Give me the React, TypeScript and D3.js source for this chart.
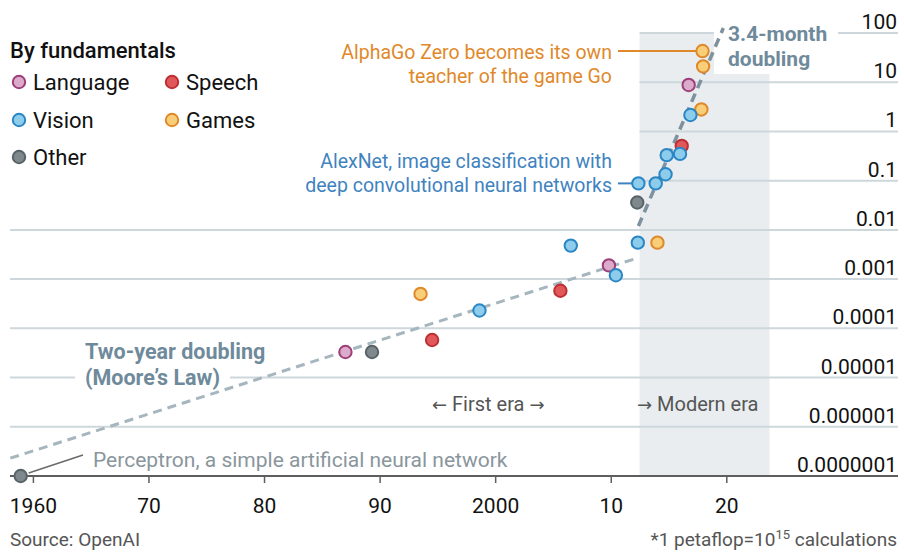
import React from "react";
import * as d3 from "d3";

// ---------- data ----------
const categories = ["Language", "Speech", "Vision", "Games", "Other"];

const pointYears = [
  1958.9, 1987.0, 1989.3, 1993.5, 1994.5, 1998.6, 2005.6, 2006.5, 2009.8, 2010.4,
  2012.3, 2014.0, 2012.25, 2012.35, 2013.85, 2014.7, 2014.8, 2016.1, 2015.95, 2017.8,
  2016.85, 2016.7, 2017.95, 2017.9,
];
const pointValues = [
  1e-7, 3.3e-5, 3.3e-5, 5e-4, 5.8e-5, 2.3e-4, 5.8e-4, 4.8e-3, 1.9e-3, 1.2e-3,
  5.5e-3, 5.5e-3, 0.036, 0.088, 0.088, 0.135, 0.33, 0.51, 0.35, 2.8,
  2.16, 8.8, 21, 43,
];
const pointCategories = [
  "Other", "Language", "Other", "Games", "Speech", "Vision", "Speech", "Vision", "Language", "Vision",
  "Vision", "Games", "Other", "Vision", "Vision", "Vision", "Vision", "Speech", "Vision", "Games",
  "Vision", "Language", "Games", "Games",
];

const mooreYears = [1958.0, 2012.3];
const mooreValues = [2.3e-7, 2.7e-3];
const modernYears = [2012.35, 2019.7];
const modernValues = [0.012, 126];

const modernEra = [2012.45, 2023.7];

const yTickValues = [100, 10, 1, 0.1, 0.01, 0.001, 0.0001, 0.00001, 0.000001, 0.0000001];
const yTickLabels = ["100", "10", "1", "0.1", "0.01", "0.001", "0.0001", "0.00001", "0.000001", "0.0000001"];
const xTickValues = [1960, 1970, 1980, 1990, 2000, 2010, 2020];
const xTickLabels = ["1960", "70", "80", "90", "2000", "10", "20"];

// ---------- styles ----------
const FONT = "Roboto, 'Open Sans', sans-serif";
const ARROW_FONT = "'DejaVu Sans', sans-serif";
const fills: Record<string, string> = {
  Language: "#dcaacb",
  Speech: "#e0585a",
  Vision: "#8dcdeb",
  Games: "#f8cf78",
  Other: "#7e888d",
};
const strokes: Record<string, string> = {
  Language: "#9c3f78",
  Speech: "#bd2f33",
  Vision: "#2a86c4",
  Games: "#e0892b",
  Other: "#586368",
};

export default function App() {
  const W = 904;
  const H = 552;
  const x = d3.scaleLinear().domain([1960, 2020]).range([33.4, 726.8]);
  const y = d3.scaleLog().domain([1e-7, 100]).range([476, 33]);
  const line = d3
    .line<[number, number]>()
    .x((d) => x(d[0]))
    .y((d) => y(d[1]));

  const mooreData = mooreYears.map((yr, i) => [yr, mooreValues[i]] as [number, number]);
  const modernData = modernYears.map((yr, i) => [yr, modernValues[i]] as [number, number]);

  const eraX0 = x(modernEra[0]);
  const eraX1 = x(modernEra[1]);

  const points = pointYears.map((yr, i) => ({ yr, v: pointValues[i], c: pointCategories[i] }));

  const legendPos = [
    [19, 82],
    [172, 82],
    [19, 120],
    [172, 120],
    [19, 157],
  ];

  const alphaGo = points[points.length - 1];
  const alexNet = points[13];
  const perceptron = points[0];

  return (
    <div style={{ position: "absolute", left: 0, top: 0 }}>
      <svg width={W} height={H} style={{ display: "block", background: "#fff" }} fontFamily={FONT}>
        <rect x={0} y={0} width={W} height={H} fill="#fff" />
        {/* modern era shading */}
        <rect x={eraX0} y={y(100)} width={eraX1 - eraX0} height={y(1e-7) - y(100)} fill="#e9edf0" />

        {/* gridlines */}
        {yTickValues.map((v, i) =>
          v === 1e-7 ? null : (
            <line
              key={"g" + i}
              x1={v >= 0.1 ? eraX0 : 10}
              x2={898}
              y1={y(v)}
              y2={y(v)}
              stroke="#cdd7dc"
              strokeWidth={2}
            />
          )
        )}
        {/* label knock-outs */}
        <rect x={714} y={16} width={124} height={58} fill="#fff" />
        <rect x={75} y={370} width={155} height={14} fill="#fff" />

        {/* axis */}
        <line x1={10} x2={898} y1={y(1e-7)} y2={y(1e-7)} stroke="#5e5e5e" strokeWidth={2} />
        {xTickValues.map((t, i) => (
          <g key={"x" + i}>
            <line x1={x(t)} x2={x(t)} y1={y(1e-7)} y2={y(1e-7) + 7} stroke="#5e5e5e" strokeWidth={1.5} />
            <text x={x(t)} y={513} textAnchor="middle" fontSize={21} fill="#111">
              {xTickLabels[i]}
            </text>
          </g>
        ))}
        {yTickValues.map((v, i) => (
          <text key={"yl" + i} x={897} y={y(v) - 4} textAnchor="end" fontSize={21} fill="#111">
            {yTickLabels[i]}
          </text>
        ))}

        {/* trend lines */}
        <path d={line(mooreData) || ""} fill="none" stroke="#a6b6bf" strokeWidth={3} strokeDasharray="9 6" />
        <path d={line(modernData) || ""} fill="none" stroke="#7d929e" strokeWidth={3.5} strokeDasharray="9 6" />

        {/* connectors */}
        <line x1={618} x2={x(alphaGo.yr)} y1={y(alphaGo.v)} y2={y(alphaGo.v)} stroke="#e0892b" strokeWidth={2} />
        <line x1={618} x2={x(alexNet.yr)} y1={y(alexNet.v)} y2={y(alexNet.v)} stroke="#3f83bf" strokeWidth={2} />
        <line x1={x(perceptron.yr) + 8} y1={y(perceptron.v) - 3} x2={83} y2={455} stroke="#6a6a6a" strokeWidth={1.5} />

        {/* points */}
        {points.map((p, i) => (
          <circle
            key={"p" + i}
            cx={x(p.yr)}
            cy={y(p.v)}
            r={6.2}
            fill={fills[p.c]}
            stroke={strokes[p.c]}
            strokeWidth={2}
          />
        ))}

        {/* legend */}
        <text x={10} y={58} fontSize={22} fontWeight={500} fill="#111">
          By fundamentals
        </text>
        {categories.map((c, i) => (
          <g key={"lg" + i}>
            <circle cx={legendPos[i][0]} cy={legendPos[i][1]} r={6.2} fill={fills[c]} stroke={strokes[c]} strokeWidth={2} />
            <text x={legendPos[i][0] + 14} y={legendPos[i][1] + 8} fontSize={22} fill="#111">
              {c}
            </text>
          </g>
        ))}

        {/* annotations */}
        <text x={612} y={59} textAnchor="end" fontSize={19.5} fill="#e0892b">
          AlphaGo Zero becomes its own
        </text>
        <text x={612} y={83} textAnchor="end" fontSize={19.5} fill="#e0892b">
          teacher of the game Go
        </text>
        <text x={728} y={41} fontSize={21} fontWeight={700} fill="#6f8a9b">
          3.4-month
        </text>
        <text x={728} y={66} fontSize={21} fontWeight={700} fill="#6f8a9b">
          doubling
        </text>
        <text x={612} y={168} textAnchor="end" fontSize={19.5} fill="#3f83bf">
          AlexNet, image classification with
        </text>
        <text x={612} y={192} textAnchor="end" fontSize={19.5} fill="#3f83bf">
          deep convolutional neural networks
        </text>
        <text x={85} y={359} fontSize={21.5} fontWeight={700} fill="#6f8a9b">
          Two-year doubling
        </text>
        <text x={85} y={385} fontSize={21.5} fontWeight={700} fill="#6f8a9b">
          (Moore’s Law)
        </text>
        <text x={432} y={411} fontSize={20} fill="#555">
          <tspan fontFamily={ARROW_FONT} fontSize={18}>←</tspan>
          <tspan> First era </tspan>
          <tspan fontFamily={ARROW_FONT} fontSize={18}>→</tspan>
        </text>
        <text x={637} y={411} fontSize={20} fill="#555">
          <tspan fontFamily={ARROW_FONT} fontSize={18}>→</tspan>
          <tspan> Modern era</tspan>
        </text>
        <text x={93} y={467} fontSize={21} fill="#8a969d">
          Perceptron, a simple artificial neural network
        </text>

        {/* footer */}
        <text x={10} y={546} fontSize={19} fill="#555">
          Source: OpenAI
        </text>
        <text x={897} y={546} textAnchor="end" fontSize={19} fill="#555">
          *1 petaflop=10
          <tspan fontSize={13} dy={-7}>15</tspan>
          <tspan dy={7}> calculations</tspan>
        </text>
      </svg>
    </div>
  );
}
